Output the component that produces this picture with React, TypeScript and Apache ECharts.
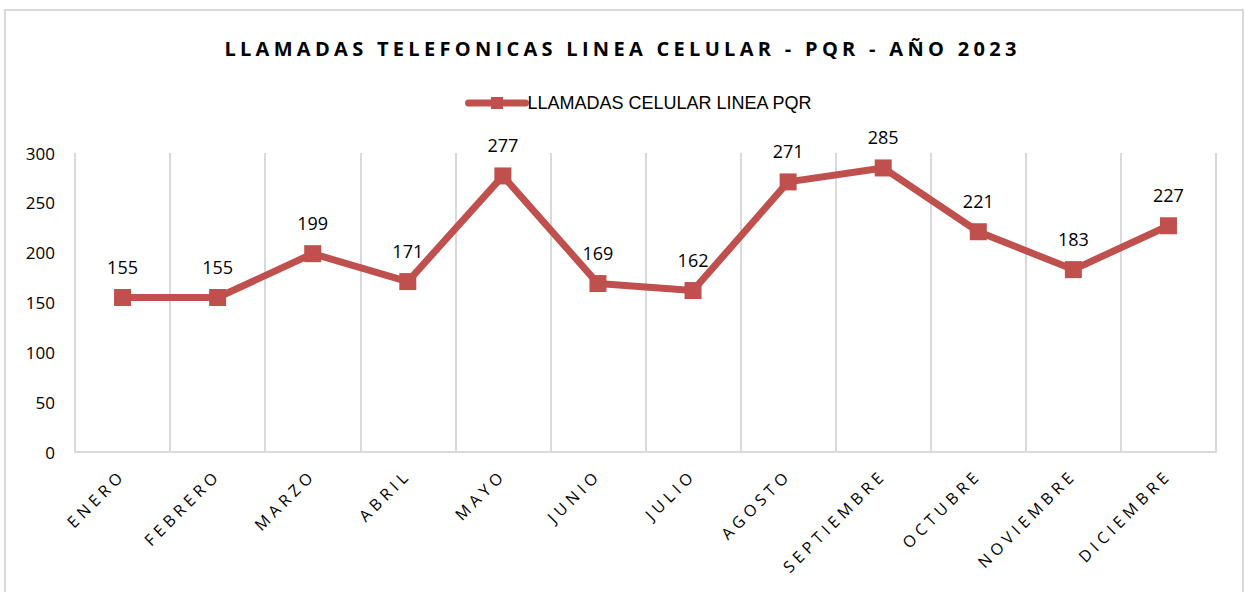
import React, { useEffect, useRef } from "react";
import * as echarts from "echarts";

const titleText = "LLAMADAS TELEFONICAS LINEA CELULAR - PQR - AÑO 2023";
const seriesName = "LLAMADAS CELULAR LINEA PQR";
const months = [
  "ENERO", "FEBRERO", "MARZO", "ABRIL", "MAYO", "JUNIO",
  "JULIO", "AGOSTO", "SEPTIEMBRE", "OCTUBRE", "NOVIEMBRE", "DICIEMBRE",
];
const calls = [155, 155, 199, 171, 277, 169, 162, 271, 285, 221, 183, 227];
const yMin = 0;
const yMax = 300;
const yStep = 50;

export default function App() {
  const ref = useRef<HTMLDivElement>(null);
  useEffect(() => {
    if (!ref.current) return;
    const el = ref.current;
    const chart = echarts.init(el, null, { renderer: "svg" });
    const red = "#C0504D";
    const grey = "#D9D9D9";
    chart.setOption({
      animation: false,
      backgroundColor: "#ffffff",
      title: {
        text: titleText,
        left: "center",
        top: 33,
        textStyle: {
          fontFamily: "Open Sans",
          fontWeight: "bold",
          fontSize: 20,
          color: "#000000",
        },
      },
      legend: {
        top: 89,
        left: 460,
        itemWidth: 57,
        itemHeight: 15,
        itemGap: 2,
        lineStyle: { width: 7, cap: "round" },
        textStyle: {
          fontFamily: "Liberation Sans",
          fontSize: 18,
          color: "#000000",
          padding: [0, 0, 0, -3],
        },
        data: [seriesName],
      },
      graphic: [
        {
          type: "rect",
          shape: { x: 5, y: 10, width: 1238, height: 600 },
          style: { fill: "none", stroke: grey, lineWidth: 2 },
          silent: true,
        },
      ],
      grid: { left: 75, right: 29, top: 153, bottom: 140, containLabel: false },
      xAxis: {
        type: "category",
        data: months,
        boundaryGap: true,
        axisLine: { show: true, lineStyle: { color: grey, width: 2 } },
        axisTick: { show: false },
        splitLine: { show: true, lineStyle: { color: grey, width: 2 } },
        axisLabel: {
          rotate: 45,
          margin: 20,
          interval: 0,
          fontFamily: "Open Sans",
          fontSize: 16,
          color: "#000000",
        },
      },
      yAxis: {
        type: "value",
        min: yMin,
        max: yMax,
        interval: yStep,
        axisLine: { show: false },
        axisTick: { show: false },
        splitLine: { show: false },
        axisLabel: {
          margin: 20,
          fontFamily: "Open Sans",
          fontSize: 17,
          color: "#000000",
        },
      },
      series: [
        {
          name: seriesName,
          type: "line",
          data: calls,
          symbol: "rect",
          symbolSize: 17,
          itemStyle: { color: red },
          lineStyle: { color: red, width: 7 },
          label: {
            show: true,
            position: "top",
            distance: 13,
            fontFamily: "Open Sans",
            fontSize: 18,
            color: "#000000",
          },
        },
      ],
    });
    const applySpacing = () => {
      el.querySelectorAll("text").forEach((t) => {
        const s = (t.textContent || "").trim();
        if (s === titleText) {
          (t as SVGTextElement).style.letterSpacing = "4.3px";
        } else if (months.indexOf(s) >= 0) {
          (t as SVGTextElement).style.letterSpacing = "4.5px";
        }
      });
    };
    applySpacing();
    chart.on("finished", applySpacing);
    const raf = requestAnimationFrame(applySpacing);
    return () => {
      cancelAnimationFrame(raf);
      chart.dispose();
    };
  }, []);
  return (
    <div
      ref={ref}
      style={{ position: "absolute", left: 0, top: 0, width: 1245, height: 592 }}
    />
  );
}
